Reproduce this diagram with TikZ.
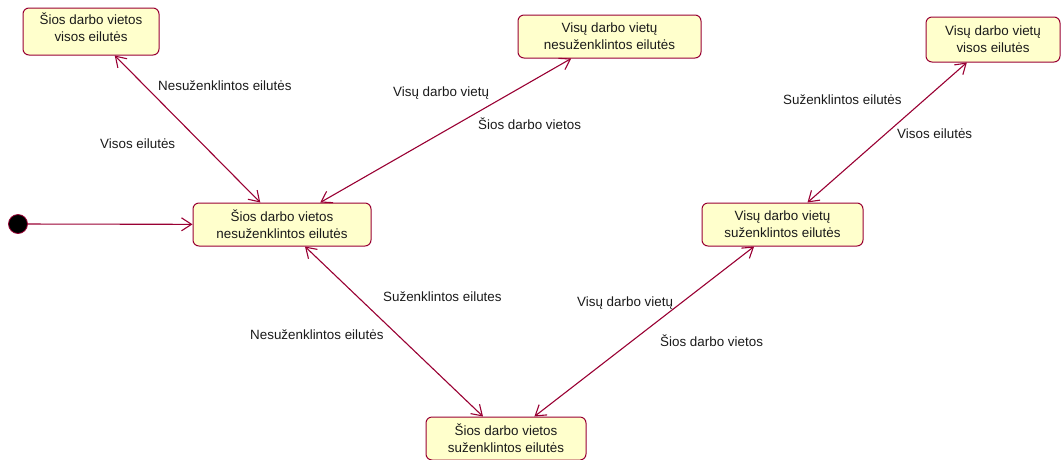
\documentclass[tikz,border=0pt]{standalone}
\usepackage{fontspec}
\setmainfont{Liberation Sans}
\usetikzlibrary{arrows.meta}
\definecolor{edgered}{HTML}{990033}
\definecolor{statefill}{HTML}{FFFFCC}
\definecolor{inktext}{HTML}{1A1A1A}
\begin{document}
\begin{tikzpicture}[x=1pt,y=-1pt,
  state/.style={draw=edgered, fill=statefill, line width=1pt, rounded corners=6pt,
    align=center, font=\fontsize{13.4}{17}\selectfont, text=inktext, inner sep=0pt},
  lbl/.style={anchor=west, inner sep=0pt, text height=9.7pt, text depth=2.9pt, yshift=-1.5pt,
    font=\fontsize{13.4}{16}\selectfont, text=inktext},
  trans/.style={draw=edgered, line width=1.1pt, {Straight Barb[length=10pt,width=13pt]}-{Straight Barb[length=10pt,width=13pt]}},
  entry/.style={draw=edgered, line width=1.1pt, -{Straight Barb[length=10pt,width=13pt]}},
]
\useasboundingbox (0,0) rectangle (1061,459);

% states
\node[state, minimum width=136pt, minimum height=47pt, text depth=9pt] (sv) at (91,31.5)
  {Šios darbo vietos\\visos eilutės};
\node[state, minimum width=178pt, minimum height=43pt] (sn) at (282,224.5)
  {Šios darbo vietos\\nesuženklintos eilutės};
\node[state, minimum width=160pt, minimum height=43pt] (ss) at (506,438.5)
  {Šios darbo vietos\\suženklintos eilutės};
\node[state, minimum width=183pt, minimum height=43pt] (vn) at (609.5,36.5)
  {Visų darbo vietų\\nesuženklintos eilutės};
\node[state, minimum width=134pt, minimum height=45pt] (vv) at (993,39.5)
  {Visų darbo vietų\\visos eilutės};
\node[state, minimum width=161pt, minimum height=43pt] (vs) at (782.5,224.5)
  {Visų darbo vietų\\suženklintos eilutės};

% initial state
\node[circle, fill=black, draw=edgered, line width=0.8pt, minimum size=19pt, inner sep=0pt] (init) at (18,224) {};
\draw[entry] (init) -- (sn);

% transitions
\draw[trans] (sv) -- (sn);
\draw[trans] (sn) -- (vn);
\draw[trans] (sn) -- (ss);
\draw[trans] (ss) -- (vs);
\draw[trans] (vs) -- (vv);

% transition labels
\node[lbl] (l1) at (158,86) {Nesuženklintos eilutės};
\node[lbl] (l2) at (100,144) {Visos eilutės};
\node[lbl] (l3) at (393,92) {Visų darbo vietų};
\node[lbl] (l4) at (478,125) {Šios darbo vietos};
\node[lbl] (l5) at (383,297) {Suženklintos eilutes};
\node[lbl] (l6) at (250,335) {Nesuženklintos eilutės};
\node[lbl] (l7) at (577,302) {Visų darbo vietų};
\node[lbl] (l8) at (660,342) {Šios darbo vietos};
\node[lbl] (l9) at (783,100) {Suženklintos eilutės};
\node[lbl] (l10) at (897,134) {Visos eilutės};
\end{tikzpicture}
\end{document}
